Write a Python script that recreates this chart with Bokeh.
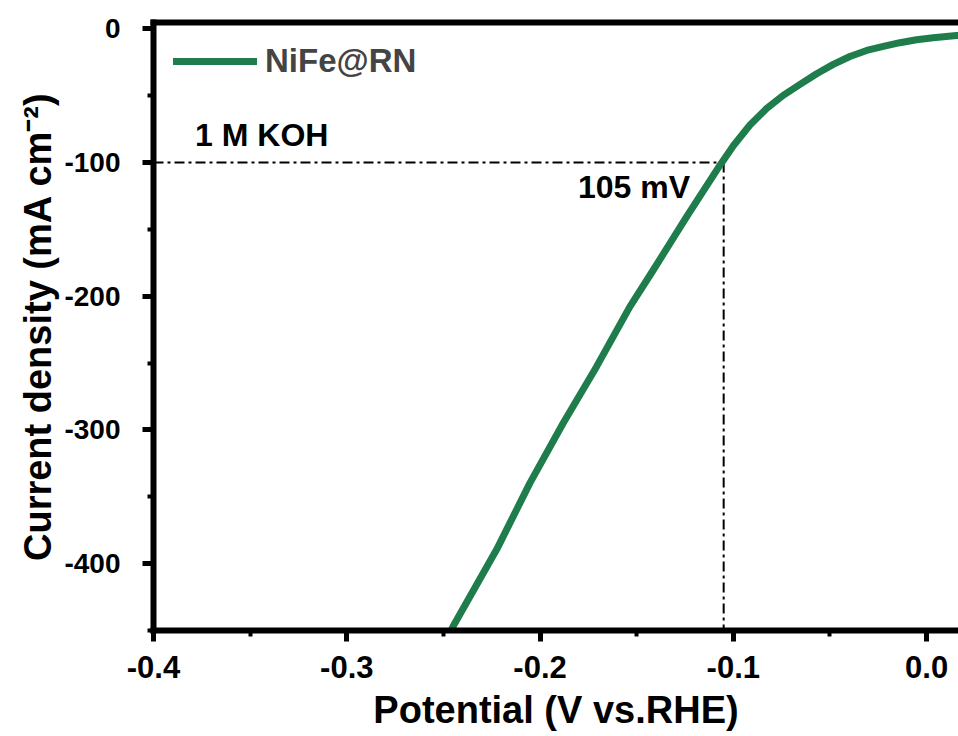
from bokeh.plotting import figure
from bokeh.models import (Range1d, LinearAxis, FixedTicker, Label, Legend, LegendItem,
                          NumeralTickFormatter)
from bokeh.embed import file_html
from bokeh.resources import INLINE

# ---- data ----
potential = [-0.2465, -0.2449, -0.2224, -0.2052, -0.1880, -0.1707, -0.1535, -0.1414,
             -0.1242, -0.1069, -0.1000, -0.0914, -0.0828, -0.0742, -0.0655, -0.0569,
             -0.0483, -0.0397, -0.0310, -0.0224, -0.0138, -0.0052, 0.0034, 0.0155, 0.0200]
current = [-452.0, -446.6, -389.3, -339.6, -294.8, -252.5, -207.8, -180.4,
           -140.6, -102.0, -87.5, -72.0, -59.7, -49.8, -41.6, -33.6,
           -26.6, -20.7, -16.2, -13.2, -10.4, -8.2, -6.7, -5.0, -4.6]

x_ticks = [-0.4, -0.3, -0.2, -0.1, 0.0]
x_minor = [-0.35, -0.25, -0.15, -0.05]
y_ticks = [0, -100, -200, -300, -400]
y_minor = [-50, -150, -250, -350, -450]

x_min, x_max = -0.4, 0.0165
y_min, y_max = -450, 4.7

eta_x = -0.105      # overpotential at reference current (V)
j_ref = -100        # reference current density
series_name = "NiFe@RN"
electrolyte = "1 M KOH"
eta_label = "105 mV"

FONT = "Liberation Sans"
GREEN = "#1e7d4b"

p = figure(width=958, height=736, x_range=Range1d(x_min, x_max), y_range=Range1d(y_min, y_max),
           output_backend="svg", toolbar_location=None,
           min_border_left=153, min_border_right=0, min_border_top=22, min_border_bottom=106,
           x_axis_label="Potential (V vs.RHE)", y_axis_label="Current density (mA cm\u207b\u00b2)")
p.outline_line_color = None
p.xgrid.visible = False
p.ygrid.visible = False
p.background_fill_color = "white"
p.border_fill_color = "white"

for ax in (p.xaxis[0], p.yaxis[0]):
    ax.axis_line_width = 6
    ax.axis_line_color = "black"
    ax.axis_line_cap = "square"
    ax.major_tick_line_width = 5
    ax.minor_tick_line_width = 4
    ax.major_tick_in = 0
    ax.minor_tick_in = 0
    ax.major_tick_out = 11
    ax.minor_tick_out = 6
    ax.major_label_text_font = FONT
    ax.major_label_text_font_style = "bold"
    ax.major_label_text_color = "black"
    ax.axis_label_text_font = FONT
    ax.axis_label_text_font_style = "bold"
    ax.axis_label_text_font_size = "38px"
    ax.axis_label_text_color = "black"

p.xaxis[0].ticker = FixedTicker(ticks=x_ticks, minor_ticks=x_minor)
p.yaxis[0].ticker = FixedTicker(ticks=y_ticks, minor_ticks=y_minor)
p.xaxis[0].formatter = NumeralTickFormatter(format="0.0")
p.yaxis[0].formatter = NumeralTickFormatter(format="0")
p.xaxis[0].major_label_text_font_size = "31px"
p.yaxis[0].major_label_text_font_size = "28px"
p.xaxis[0].major_label_standoff = 14
p.yaxis[0].major_label_standoff = 22
p.xaxis[0].axis_label_standoff = 8
p.yaxis[0].axis_label_standoff = 2

top = LinearAxis(ticker=FixedTicker(ticks=[]), major_label_text_font_size="0px",
                 axis_line_width=6, axis_line_cap="square", major_tick_out=0, minor_tick_out=0,
                 major_tick_in=0, minor_tick_in=0)
p.add_layout(top, "above")

# guide lines
p.line([x_min, eta_x], [j_ref, j_ref], line_color="black", line_width=2, line_dash="10 4 3 4")
p.line([eta_x, eta_x], [j_ref, y_min], line_color="black", line_width=2, line_dash="10 4 3 4")

r = p.line(potential, current, line_color=GREEN, line_width=7, line_cap="round", line_join="round")

legend = Legend(items=[LegendItem(label=series_name, renderers=[r])], location="top_left",
                glyph_width=84, glyph_height=38, label_text_font_size="33px",
                label_text_font=FONT, label_text_font_style="bold", label_standoff=8,
                border_line_color=None, background_fill_alpha=0, padding=0, margin=20, spacing=0)
p.add_layout(legend)

p.add_layout(Label(x=-0.3785, y=-79.5, text=electrolyte, text_font=FONT, text_font_style="bold",
                   text_font_size="32px", text_baseline="alphabetic", text_color="black"))
p.add_layout(Label(x=-0.1804, y=-118, text=eta_label, text_font=FONT, text_font_style="bold",
                   text_font_size="32px", text_baseline="alphabetic", text_color="black"))

open("out.html", "w").write(file_html(p, INLINE))
